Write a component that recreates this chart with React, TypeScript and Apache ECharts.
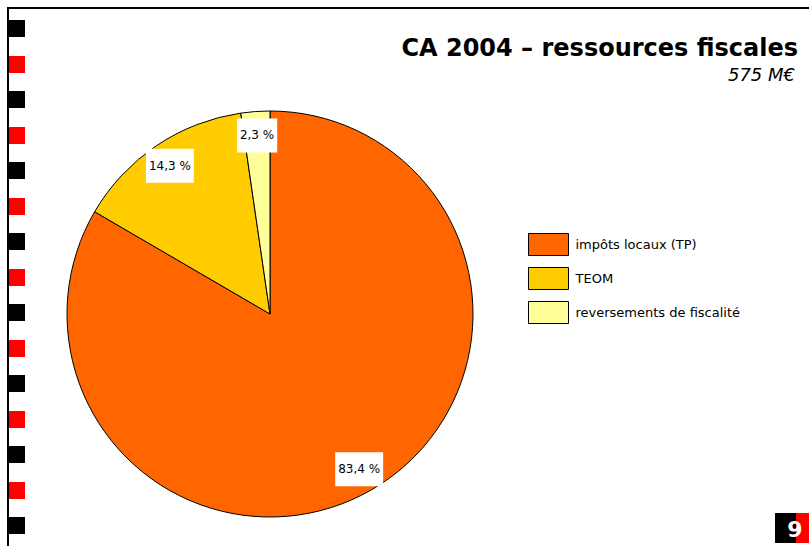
import React, { useEffect, useRef } from "react";
import * as echarts from "echarts";

const categories = ["impôts locaux (TP)", "TEOM", "reversements de fiscalité"];
const shares = [83.4, 14.3, 2.3];
const colors = ["#FF6600", "#FFCC00", "#FFFF99"];
const titleText = "CA 2004 – ressources fiscales";
const subtitleText = "575 M€";
const pageNumber = "9";

const FONT = "'Comic Sans MS', 'DejaVu Sans', sans-serif";

export default function App() {
  const ref = useRef<HTMLDivElement>(null);
  useEffect(() => {
    if (!ref.current) return;
    const chart = echarts.init(ref.current, undefined, { renderer: "svg" });
    const data = categories.map((name, i) => ({
      name,
      value: shares[i],
      itemStyle: { color: colors[i] },
    }));
    const decor: any[] = [];
    // page frame
    decor.push({ type: "rect", shape: { x: 7, y: 7, width: 802, height: 2 }, style: { fill: "#000" }, silent: true });
    decor.push({ type: "rect", shape: { x: 7, y: 7, width: 2, height: 539 }, style: { fill: "#000" }, silent: true });
    for (let n = 0; n < 15; n++) {
      decor.push({
        type: "rect",
        shape: { x: 9, y: Math.round(20 + n * 35.5), width: 16, height: 17 },
        style: { fill: n % 2 === 0 ? "#000" : "#FF0000" },
        silent: true,
      });
    }
    decor.push({ type: "rect", shape: { x: 775, y: 513, width: 21, height: 30 }, style: { fill: "#000" }, silent: true });
    decor.push({ type: "rect", shape: { x: 796, y: 513, width: 13, height: 30 }, style: { fill: "#FF0000" }, silent: true });
    decor.push({
      type: "text",
      x: 795,
      y: 529,
      style: {
        text: pageNumber,
        fill: "#fff",
        font: "bold 22px " + FONT,
        align: "center",
        verticalAlign: "middle",
      },
      silent: true,
    });

    const fmt = (p: any) => p.value.toFixed(1).replace(".", ",") + " %";

    chart.setOption({
      animation: false,
      backgroundColor: "#fff",
      title: [
        {
          text: titleText,
          right: 11,
          top: 36,
          padding: 0,
          textStyle: { fontFamily: FONT, fontSize: 24, fontWeight: "bold", fontStyle: "normal", color: "#000" },
        },
        {
          text: subtitleText,
          right: 14,
          top: 65,
          padding: 0,
          textStyle: { fontFamily: FONT, fontSize: 18, fontWeight: "normal", fontStyle: "italic", color: "#000" },
        },
      ],
      legend: {
        orient: "vertical",
        left: 528,
        top: 233,
        padding: 0,
        itemWidth: 40,
        itemHeight: 22,
        itemGap: 11,
        icon: "rect",
        data: categories,
        selectedMode: false,
        textStyle: { fontFamily: FONT, fontSize: 13, color: "#000", padding: [0, 0, 0, 2] },
        itemStyle: { borderColor: "#000", borderWidth: 1 },
      },
      graphic: decor,
      series: [
        {
          type: "pie",
          center: [270, 314],
          radius: 203,
          startAngle: 90,
          clockwise: true,
          silent: true,
          label: { show: false },
          labelLine: { show: false },
          itemStyle: { borderColor: "#000", borderWidth: 1 },
          data,
        },
        {
          type: "pie",
          center: [270, 314],
          radius: [166, 186],
          startAngle: 90,
          clockwise: true,
          silent: true,
          itemStyle: { color: "rgba(0,0,0,0)", borderWidth: 0 },
          label: {
            show: true,
            position: "inside",
            formatter: fmt,
            backgroundColor: "#fff",
            padding: [11, 3],
            lineHeight: 12,
            fontFamily: FONT,
            fontSize: 12,
            color: "#000",
          },
          labelLine: { show: false },
          data: categories.map((name, i) => ({ name, value: shares[i], itemStyle: { color: "rgba(0,0,0,0)" } })),
        },
      ],
    });
    return () => chart.dispose();
  }, []);
  return <div ref={ref} style={{ position: "fixed", left: 0, top: 0, width: 809, height: 546 }} />;
}
